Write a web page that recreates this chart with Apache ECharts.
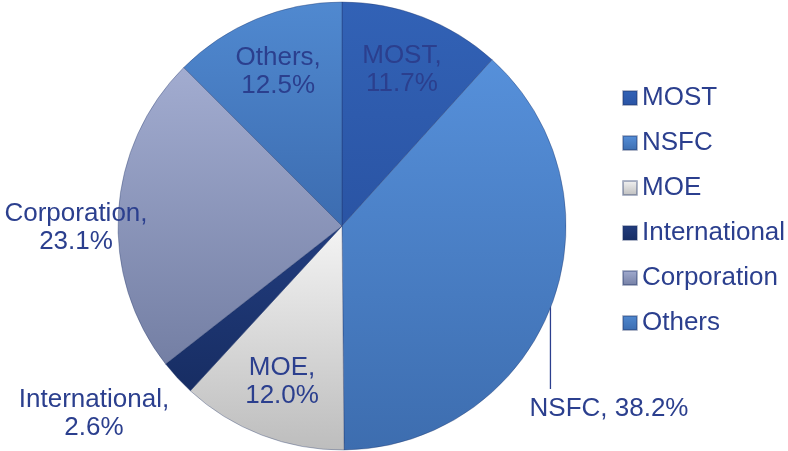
<!DOCTYPE html>
<html>
<head>
<meta charset="utf-8">
<script src="https://cdn.jsdelivr.net/npm/echarts@6/dist/echarts.min.js"></script>
<style>
html, body { margin: 0; padding: 0; background: #fff; }
#main { width: 788px; height: 451px; }
</style>
</head>
<body>
<div id="main"></div>
<script>
// 数据
var names = ['MOST', 'NSFC', 'MOE', 'International', 'Corporation', 'Others'];
var values = [11.7, 38.2, 12.0, 2.6, 23.1, 12.5];

// 每块的渐变色 (上, 下)
var colorTop = ['#3262B6', '#5690DA', '#F4F4F4', '#223D7E', '#A2ACD0', '#5089D0'];
var colorBottom = ['#2A54A4', '#3D6DAF', '#BDBDBD', '#172D63', '#747FA4', '#3C6CB0'];

var textColor = '#2B3F8E';
var cx = 342, cy = 226, R = 224;

function grad(i) {
    return new echarts.graphic.LinearGradient(0, 0, 0, 1, [
        { offset: 0, color: colorTop[i] },
        { offset: 1, color: colorBottom[i] }
    ]);
}

// 计算每块的中间角度 (从正上方顺时针, 度)
var total = values.reduce(function (a, b) { return a + b; }, 0);
var midAngle = [];
var acc = 0;
for (var i = 0; i < values.length; i++) {
    midAngle.push((acc + values[i] / 2) / total * 360);
    acc += values[i];
}

function polar(deg, r) {
    var a = deg * Math.PI / 180;
    return [cx + r * Math.sin(a), cy - r * Math.cos(a)];
}

var pieData = [];
for (var i = 0; i < names.length; i++) {
    pieData.push({
        name: names[i],
        value: values[i],
        itemStyle: { color: grad(i) },
        labelLine: { show: names[i] === 'NSFC' }
    });
}

var chart = echarts.init(document.getElementById('main'));

var option = {
    animation: false,
    legend: {
        orient: 'vertical',
        left: 617,
        top: 80,
        itemWidth: 14,
        itemHeight: 14,
        itemGap: 19,
        icon: 'rect',
        data: names,
        textStyle: {
            color: textColor,
            fontFamily: 'Liberation Sans',
            fontSize: 26,
            lineHeight: 26
        }
    },
    series: [{
        type: 'pie',
        center: [cx, cy],
        radius: [0, R],
        startAngle: 90,
        clockwise: true,
        avoidLabelOverlap: false,
        silent: true,
        itemStyle: {
            borderColor: 'rgba(30,50,100,0.35)',
            borderWidth: 1
        },
        label: {
            show: true,
            position: 'outside',
            color: textColor,
            fontFamily: 'Liberation Sans',
            fontSize: 26,
            lineHeight: 28,
            align: 'center',
            formatter: function (p) {
                var v = p.value.toFixed(1) + '%';
                if (p.name === 'NSFC') return p.name + ', ' + v;
                return p.name + ',\n' + v;
            }
        },
        labelLine: {
            show: false,
            lineStyle: { color: textColor, width: 1.3 }
        },
        labelLayout: function (params) {
            var idx = params.dataIndex;
            var name = names[idx];
            if (name === 'NSFC') {
                var e = polar(midAngle[idx], R);
                return {
                    x: 609, y: 409, align: 'center', verticalAlign: 'middle',
                    labelLinePoints: [[e[0] - 1, e[1]], [e[0] - 1, e[1] + 40], [e[0] - 1, 389]]
                };
            }
            if (name === 'International') {
                return { x: 94, y: 414, align: 'center', verticalAlign: 'middle' };
            }
            if (name === 'Corporation') {
                return { x: 76, y: 228, align: 'center', verticalAlign: 'middle' };
            }
            var p = polar(midAngle[idx], 167);
            return { x: p[0], y: p[1], align: 'center', verticalAlign: 'middle' };
        },
        data: pieData
    }]
};

chart.setOption(option);
</script>
</body>
</html>
